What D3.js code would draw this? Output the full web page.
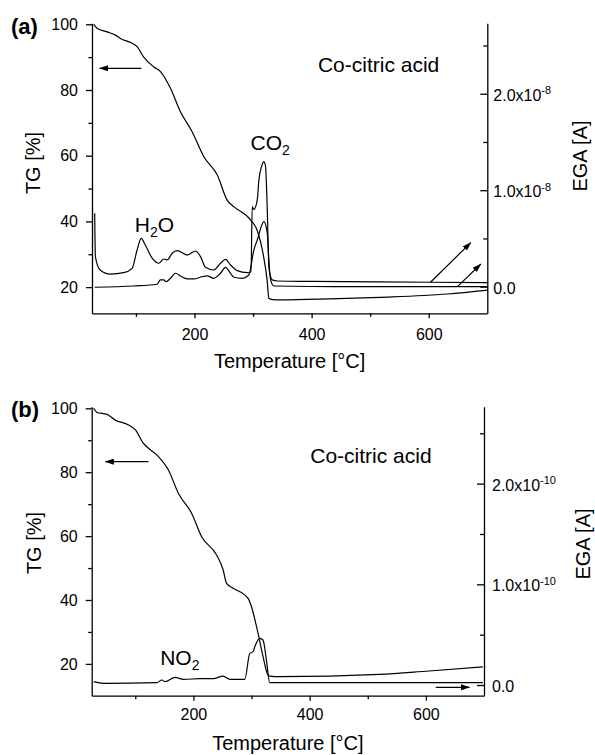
<!DOCTYPE html>
<html><head><meta charset="utf-8">
<script src="https://cdn.jsdelivr.net/npm/d3@7"></script>
<style>
body{margin:0;background:#fff;}
svg{display:block;font-family:"Liberation Sans",Arial,sans-serif;}
</style></head><body>
<svg id="chart" width="595" height="755"></svg>
<script>
// ---------------- data ----------------
const xTickValues = [200, 400, 600];
const xMinorTickValues = [100, 300, 500];
const tgTickValues = [20, 40, 60, 80, 100];
const tgMinorTickValues = [30, 50, 70, 90];
const egaTickValues = [0, 1, 2];
const egaMinorTickValues = [0.5, 1.5, 2.5];
const egaTickLabelsA = [["0.0", ""], ["1.0x10", "-8"], ["2.0x10", "-8"]];
const egaTickLabelsB = [["0.0", ""], ["1.0x10", "-10"], ["2.0x10", "-10"]];

// panel (a): TG [%] vs temperature [°C]
const tgCurveA = [[27.9,100],[33.7,98.8],[50.8,97.7],[65,96.7],[73.5,95.7],[93.5,94.2],[102,93.2],[113,90.1],[130,87.1],[142,85.6],[159,80.5],[176,73.4],[196,67.3],[216,59.7],[239,54.1],[256,46.4],[267,44.5],[296,40.4],[307,37.3],[318,29.3],[324,22.2],[327,16.6],[333,16.2],[347,16.1],[430,16.4],[518,16.9],[632,17.9],[701,19.1]];
// panel (a): EGA ion currents, units of 1e-8 A
const egaUpperA = [[29.6,0.76],[30.8,0.31],[39.3,0.17],[56.4,0.13],[79.1,0.145],[93.5,0.19],[102,0.38],[108.9,0.50],[116.2,0.43],[127.7,0.295],[139,0.243],[147.5,0.287],[153.3,0.277],[161.9,0.346],[170.4,0.373],[187.5,0.329],[201.7,0.37],[210.3,0.311],[218.8,0.201],[233,0.173],[244.4,0.243],[253,0.284],[261.5,0.225],[273,0.166],[290,0.145],[296.5,0.152],[298.6,0.83],[301.4,0.80],[307.2,0.90],[310,1.107],[314.5,1.245],[318.5,1.297],[321.4,1.245],[323,1.037],[324.3,0.796],[327,0.207],[330,0.104],[332.8,0.07],[341.4,0.059],[400,0.055],[603,0.046],[701,0.041]];
const egaLowerA = [[29.6,-0.006],[96.2,0.007],[136.2,0.025],[141.9,0.07],[147.5,0.07],[151.6,0.052],[159,0.087],[167.5,0.139],[176,0.111],[187.5,0.08],[198.8,0.08],[213.2,0.104],[221.7,0.111],[233,0.087],[244.4,0.139],[253,0.201],[261.5,0.139],[267.2,0.098],[281.5,0.087],[292.8,0.121],[301.4,0.381],[307.2,0.484],[318.5,0.674],[324.3,0.554],[327,0.277],[330,0.07],[335.6,0.007],[400,0.002],[701,0]];

// panel (b)
const tgCurveB = [[28.4,100],[34.3,98.7],[51.4,98.1],[65.6,96.3],[88.4,94.8],[99.9,93.3],[114.1,89.0],[122.7,87.5],[139.8,84.9],[157,80.7],[174.1,73.4],[197.1,67.1],[214.2,59.8],[239.9,54.1],[251.2,49.4],[257.1,45.2],[268.4,43.7],[294.1,40.5],[299.9,37.9],[311.2,29.6],[319.8,22.3],[328.4,16.5],[331.3,16.2],[348.4,16.0],[520,16.7],[600,17.7],[698,19.1]];
// panel (b): NO2 ion current, units of 1e-10 A
const egaNO2B = [[28.4,0.033],[45.6,0.017],[137.1,0.023],[145.7,0.05],[151.3,0.033],[168.5,0.076],[182.7,0.057],[211.3,0.063],[234.1,0.063],[251.2,0.089],[262.7,0.057],[288.4,0.057],[297,0.315],[302.7,0.331],[305.6,0.38],[314.1,0.464],[319.8,0.447],[325.6,0.248],[331.3,0.023],[400,0.023],[698,0.023]];

// arrows (data coordinates; axis tells which y-scale)
const arrowsA = [
  {axis: "tg", from: [109.4, 86.6], to: [38, 86.6]},
  {axis: "ega", from: [603, 0.046], to: [671.8, 0.456]},
  {axis: "ega", from: [649, 0], to: [689, 0.235]}
];
const arrowsB = [
  {axis: "tg", from: [122.7, 83.3], to: [48.5, 83.3]},
  {axis: "ega", from: [617, -0.023], to: [675, -0.023]}
];
// text annotations: [main, subscript, tail], position in TG data units
const notesA = [
  {parts: ["CO", "2", ""], at: [295.7, 61.7]},
  {parts: ["H", "2", "O"], at: [98, 36.9]},
  {parts: ["Co-citric acid", "", ""], at: [410.8, 85.6]}
];
const notesB = [
  {parts: ["NO", "2", ""], at: [142.8, 19.65]},
  {parts: ["Co-citric acid", "", ""], at: [401, 83.0]}
];

// ---------------- drawing ----------------
const svg = d3.select("#chart");
svg.append("defs").append("marker")
  .attr("id", "head").attr("viewBox", "0 0 9 6")
  .attr("markerWidth", 9).attr("markerHeight", 6)
  .attr("refX", 8.5).attr("refY", 3)
  .attr("orient", "auto").attr("markerUnits", "userSpaceOnUse")
  .append("path").attr("d", "M0,0L9,3L0,6Z").attr("fill", "#000");

const panels = [
  {label: "(a)", labelPos: [11, 34], left: 92, right: 487.3, top: 23.3, bottom: 313.3,
   tgDomain: [12.03, 100.3], egaDomain: [-0.276, 2.73],
   tg: tgCurveA, ega: [egaUpperA, egaLowerA], egaLabels: egaTickLabelsA,
   arrows: arrowsA, notes: notesA, xPad: 10, rPad: 6,
   tgTitleX: 40, tgTitleY: 163, egaTitleX: 587, egaTitleY: 156, xTitleY: 368},
  {label: "(b)", labelPos: [11, 417], left: 91.7, right: 484, top: 406.7, bottom: 695.7,
   tgDomain: [10.05, 100.5], egaDomain: [-0.106, 2.764],
   tg: tgCurveB, ega: [egaNO2B], egaLabels: egaTickLabelsB,
   arrows: arrowsB, notes: notesB, xPad: 8, rPad: 8,
   tgTitleX: 41, tgTitleY: 543, egaTitleX: 590, egaTitleY: 544, xTitleY: 750}
];

function styleAxis(g) {
  g.attr("font-size", null).attr("font-family", null);
  g.selectAll("path, line").attr("stroke", "#000").attr("stroke-width", 1.3);
  g.selectAll("text").attr("fill", "#000").attr("font-size", 16);
}

panels.forEach(p => {
  const x = d3.scaleLinear().domain([25, 700]).range([p.left, p.right]);
  const yTG = d3.scaleLinear().domain(p.tgDomain).range([p.bottom, p.top]);
  const yE = d3.scaleLinear().domain(p.egaDomain).range([p.bottom, p.top]);
  const g = svg.append("g");

  // left axis
  g.append("g").attr("transform", `translate(${p.left},0)`)
    .call(d3.axisLeft(yTG).tickValues(tgTickValues).tickSize(6).tickSizeOuter(0).tickPadding(8))
    .call(styleAxis);
  g.append("g").attr("transform", `translate(${p.left},0)`)
    .call(d3.axisLeft(yTG).tickValues(tgMinorTickValues).tickSize(3.5).tickFormat(""))
    .call(styleAxis).select(".domain").remove();

  // bottom axis
  g.append("g").attr("transform", `translate(0,${p.bottom})`)
    .call(d3.axisBottom(x).tickValues(xTickValues).tickSize(5).tickSizeOuter(0).tickPadding(p.xPad))
    .call(styleAxis);
  g.append("g").attr("transform", `translate(0,${p.bottom})`)
    .call(d3.axisBottom(x).tickValues(xMinorTickValues).tickSize(3.5).tickFormat(""))
    .call(styleAxis).select(".domain").remove();

  // right axis (ticks point inward)
  const rAx = g.append("g").attr("transform", `translate(${p.right},0)`)
    .call(d3.axisRight(yE).tickValues(egaTickValues).tickSize(-7).tickSizeOuter(0).tickPadding(p.rPad).tickFormat(""))
    .call(styleAxis);
  rAx.selectAll(".tick text").each(function(d, i) {
    const t = d3.select(this).attr("dy", "0.4em");
    const lab = p.egaLabels[i];
    t.append("tspan").text(lab[0]);
    if (lab[1]) t.append("tspan").attr("dy", "-0.6em").attr("font-size", 11).text(lab[1]);
  });
  g.append("g").attr("transform", `translate(${p.right},0)`)
    .call(d3.axisRight(yE).tickValues(egaMinorTickValues).tickSize(-4).tickFormat(""))
    .call(styleAxis).select(".domain").remove();

  // curves
  const lineTG = d3.line().x(d => x(d[0])).y(d => yTG(d[1])).curve(d3.curveMonotoneX);
  const lineE = d3.line().x(d => x(d[0])).y(d => yE(d[1])).curve(d3.curveMonotoneX);
  g.append("path").datum(p.tg).attr("d", lineTG)
    .attr("fill", "none").attr("stroke", "#000").attr("stroke-width", 1.2);
  p.ega.forEach(s => g.append("path").datum(s).attr("d", lineE)
    .attr("fill", "none").attr("stroke", "#000").attr("stroke-width", 1.2));

  // arrows
  p.arrows.forEach(a => {
    const ys = a.axis === "tg" ? yTG : yE;
    g.append("line")
      .attr("x1", x(a.from[0])).attr("y1", ys(a.from[1]))
      .attr("x2", x(a.to[0])).attr("y2", ys(a.to[1]))
      .attr("stroke", "#000").attr("stroke-width", 1.2)
      .attr("marker-end", "url(#head)");
  });

  // annotations
  p.notes.forEach(n => {
    const t = g.append("text").attr("x", x(n.at[0])).attr("y", yTG(n.at[1]))
      .attr("font-size", 21).attr("fill", "#000");
    t.append("tspan").text(n.parts[0]);
    if (n.parts[1]) t.append("tspan").attr("dy", 5).attr("font-size", 14).text(n.parts[1]);
    if (n.parts[2]) t.append("tspan").attr("dy", -5).text(n.parts[2]);
  });

  // titles
  g.append("text").attr("x", p.labelPos[0]).attr("y", p.labelPos[1])
    .attr("font-size", 22).attr("font-weight", "bold").text(p.label);
  g.append("text").attr("transform", `translate(${p.tgTitleX},${p.tgTitleY}) rotate(-90)`)
    .attr("text-anchor", "middle").attr("font-size", 20).text("TG [%]");
  g.append("text").attr("transform", `translate(${p.egaTitleX},${p.egaTitleY}) rotate(-90)`)
    .attr("text-anchor", "middle").attr("font-size", 20).text("EGA [A]");
  g.append("text").attr("x", (p.left + p.right) / 2).attr("y", p.xTitleY)
    .attr("text-anchor", "middle").attr("font-size", 20).text("Temperature [°C]");
});
</script>
</body></html>
